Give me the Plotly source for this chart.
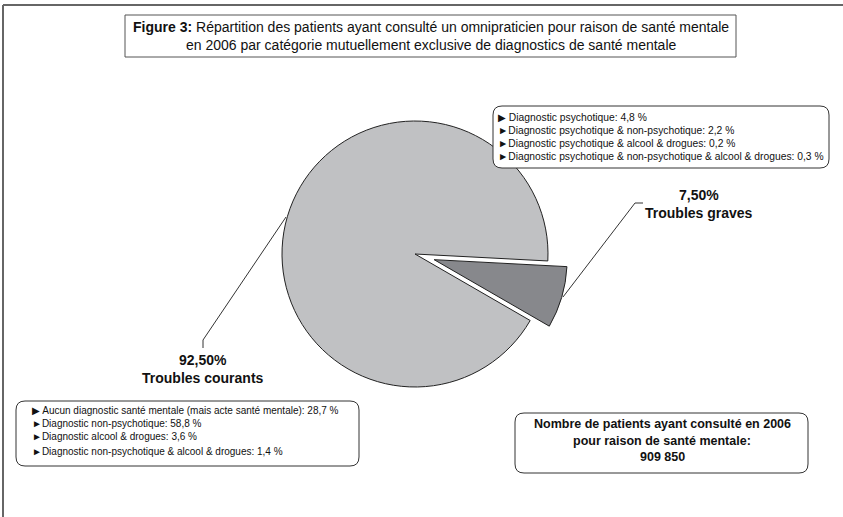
import plotly.graph_objects as go

W, H = 843, 517

# ---- data ----
categories = ["Troubles graves", "Troubles courants"]
shares = [7.5, 92.5]
share_labels = ["7,50%", "92,50%"]
detail_graves = [
    "Diagnostic psychotique: 4,8 %",
    "Diagnostic psychotique & non-psychotique: 2,2 %",
    "Diagnostic psychotique & alcool & drogues: 0,2 %",
    "Diagnostic psychotique & non-psychotique & alcool & drogues: 0,3 %",
]
detail_courants = [
    "Aucun diagnostic santé mentale (mais acte santé mentale): 28,7 %",
    "Diagnostic non-psychotique: 58,8 %",
    "Diagnostic alcool & drogues: 3,6 %",
    "Diagnostic non-psychotique & alcool & drogues: 1,4 %",
]
total_patients = "909 850"
title_lines = [
    "<b>Figure 3:</b> Répartition des patients ayant consulté un omnipraticien pour raison de santé mentale",
    "en 2006 par catégorie mutuellement exclusive de diagnostics de santé mentale",
]

FONT = "Liberation Sans, Arial, sans-serif"


def px(x):
    return x / W


def py(y):
    return 1 - y / H


# pie geometry (pixels)
cx, cy, r, pull = 415, 254, 133, 0.15
half = r * (1 + pull)

fig = go.Figure()
fig.add_trace(go.Pie(
    labels=categories,
    values=shares,
    sort=False,
    direction="clockwise",
    rotation=93,
    pull=[pull, 0],
    marker=dict(colors=["#87888c", "#c0c1c3"], line=dict(color="#222222", width=1)),
    textinfo="none",
    hoverinfo="label+percent",
    showlegend=False,
    domain=dict(x=[px(cx - half), px(cx + half)], y=[py(cy + half), py(cy - half)]),
))

shapes = []
annotations = []

# outer frame (top and left)
shapes.append(dict(type="line", xref="paper", yref="paper", x0=px(3), x1=px(843), y0=py(5), y1=py(5),
                   line=dict(color="#666666", width=2)))
shapes.append(dict(type="line", xref="paper", yref="paper", x0=px(3), x1=px(3), y0=py(5), y1=py(517),
                   line=dict(color="#666666", width=2)))

# title box
shapes.append(dict(type="rect", xref="paper", yref="paper", x0=px(125), x1=px(736), y0=py(15), y1=py(57),
                   line=dict(color="#555555", width=1), fillcolor="white"))
annotations.append(dict(x=px(431), y=py(27), text=title_lines[0], showarrow=False, xref="paper", yref="paper",
                        font=dict(family=FONT, size=14, color="#111"), xanchor="center", yanchor="middle"))
annotations.append(dict(x=px(431), y=py(45), text=title_lines[1], showarrow=False, xref="paper", yref="paper",
                        font=dict(family=FONT, size=14, color="#111"), xanchor="center", yanchor="middle"))


def rounded(x0, y0, x1, y1, rr=9):
    p = (f"M {px(x0 + rr)},{py(y0)} L {px(x1 - rr)},{py(y0)} Q {px(x1)},{py(y0)} {px(x1)},{py(y0 + rr)} "
         f"L {px(x1)},{py(y1 - rr)} Q {px(x1)},{py(y1)} {px(x1 - rr)},{py(y1)} "
         f"L {px(x0 + rr)},{py(y1)} Q {px(x0)},{py(y1)} {px(x0)},{py(y1 - rr)} "
         f"L {px(x0)},{py(y0 + rr)} Q {px(x0)},{py(y0)} {px(x0 + rr)},{py(y0)} Z")
    return dict(type="path", xref="paper", yref="paper", path=p,
                line=dict(color="#333333", width=1), fillcolor="white")


# top-right detail box
shapes.append(rounded(493, 106, 829, 168))
for i, (t, yy) in enumerate(zip(detail_graves, [117, 130, 143, 156])):
    bullet = "▶ " if i == 0 else "►"
    annotations.append(dict(x=px(496), y=py(yy), text=bullet + t, showarrow=False, xref="paper", yref="paper",
                            font=dict(family=FONT, size=10.3, color="#111"), xanchor="left", yanchor="middle"))

# bottom-left detail box
shapes.append(rounded(16, 401, 359, 466))
for i, (t, yy) in enumerate(zip(detail_courants, [410, 423, 436, 451])):
    bullet = "▶ " if i == 0 else "►"
    annotations.append(dict(x=px(30), y=py(yy), text=bullet + t, showarrow=False, xref="paper", yref="paper",
                            font=dict(family=FONT, size=10, color="#111"), xanchor="left", yanchor="middle"))

# bottom-right total box
shapes.append(rounded(515, 413, 808, 473))
for t, yy in zip(["Nombre de patients ayant consulté en 2006", "pour raison de santé mentale:", total_patients],
                 [424, 441, 457]):
    annotations.append(dict(x=px(662), y=py(yy), text="<b>" + t + "</b>", showarrow=False, xref="paper",
                            yref="paper", font=dict(family=FONT, size=12.5, color="#111"),
                            xanchor="center", yanchor="middle"))

# slice labels with leader lines
leader_graves = [(563, 297), (635, 203), (643, 203)]
leader_courants = [(286, 217), (203, 340), (203, 348)]
for pts in (leader_graves, leader_courants):
    path = "M " + " L ".join(f"{px(a)},{py(b)}" for a, b in pts)
    shapes.append(dict(type="path", xref="paper", yref="paper", path=path,
                       line=dict(color="#333333", width=1)))

for (lab, pct), (lx, ly) in zip(zip(categories, share_labels), [(699, 195), (203, 360)]):
    annotations.append(dict(x=px(lx), y=py(ly), text=f"<b>{pct}</b>", showarrow=False, xref="paper", yref="paper",
                            font=dict(family=FONT, size=14, color="#111"), xanchor="center", yanchor="middle"))
    annotations.append(dict(x=px(lx), y=py(ly + 18), text=f"<b>{lab}</b>", showarrow=False, xref="paper",
                            yref="paper", font=dict(family=FONT, size=14, color="#111"),
                            xanchor="center", yanchor="middle"))

fig.update_layout(
    width=W, height=H,
    margin=dict(l=0, r=0, t=0, b=0),
    paper_bgcolor="white", plot_bgcolor="white",
    shapes=shapes, annotations=annotations,
    font=dict(family=FONT),
)

fig.write_html("out.html", config={"displayModeBar": False},
               post_script="document.body.style.margin='0';document.body.style.padding='0';")
